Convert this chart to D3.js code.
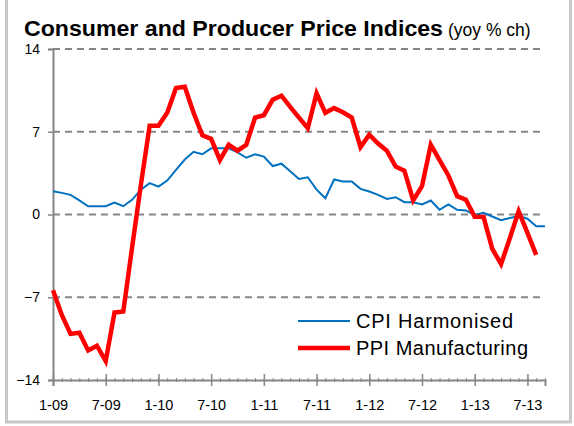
<!DOCTYPE html>
<html>
<head>
<meta charset="utf-8">
<script src="https://cdn.jsdelivr.net/npm/d3@7"></script>
<style>
  html, body { margin: 0; padding: 0; background: #fff; }
  svg { display: block; font-family: "Liberation Sans", Arial, sans-serif; }
</style>
</head>
<body>
<svg id="chart" width="574" height="426"></svg>
<script>
// Monthly index, 0 = Jan 2009
const tickMonths = [0, 6, 12, 18, 24, 30, 36, 42, 48, 54];
const tickLabels = ["1-09", "7-09", "1-10", "7-10", "1-11", "7-11", "1-12", "7-12", "1-13", "7-13"];
const yTicks = [-14, -7, 0, 7, 14];

// CPI Harmonised, yoy % change, Jan 2009 - Sep 2013
const cpiHarmonised = [
  1.97, 1.83, 1.66, 1.2, 0.7, 0.7, 0.7, 1.0, 0.7, 1.24, 2.1, 2.65,
  2.36, 2.87, 3.77, 4.65, 5.3, 5.1, 5.6, 5.6, 5.6, 5.26, 4.8, 5.1,
  4.9, 4.1, 4.3, 3.66, 3.0, 3.15, 2.1, 1.38, 2.96, 2.8, 2.8, 2.17,
  1.95, 1.66, 1.32, 1.46, 1.04, 1.04, 0.85, 1.18, 0.4, 0.85, 0.4, 0.34,
  -0.05, 0.14, -0.17, -0.48, -0.3, -0.12, -0.36, -1.0, -1.0
];

// PPI Manufacturing, yoy % change, Jan 2009 - Aug 2013
const ppiManufacturing = [
  -6.4, -8.5, -10.1, -10.0, -11.5, -11.1, -12.4, -8.3, -8.2, -2.8, 2.5, 7.5,
  7.5, 8.6, 10.7, 10.8, 8.6, 6.7, 6.4, 4.6, 5.9, 5.4, 5.9, 8.2,
  8.4, 9.7, 10.05, 9.1, 8.2, 7.3, 10.25, 8.6, 9.0, 8.65, 8.2, 5.7,
  6.75, 6.0, 5.4, 4.05, 3.7, 1.2, 2.4, 5.9, 4.6, 3.3, 1.55, 1.25,
  -0.2, -0.2, -2.9, -4.2, -2.0, 0.28, -1.55, -3.42
];

const seriesNames = ["CPI Harmonised", "PPI Manufacturing"];
const seriesColors = ["#0070C0", "#FF0000"];
const seriesWidths = [2, 4.5];
const legendWidths = [157, 172];

const svg = d3.select("#chart");

// outer frame
svg.append("rect")
  .attr("x", 6.5).attr("y", -10)
  .attr("width", 564).attr("height", 432)
  .attr("fill", "none").attr("stroke", "#c8c8c8").attr("stroke-width", 3);

// title
const title = svg.append("text").attr("x", 24).attr("y", 36);
title.append("tspan")
  .attr("font-weight", "bold").attr("font-size", 22.5)
  .attr("textLength", 419).attr("lengthAdjust", "spacingAndGlyphs")
  .text("Consumer and Producer Price Indices");
title.append("tspan")
  .attr("x", 448).attr("font-size", 17.5)
  .text("(yoy % ch)");

const x = d3.scaleLinear().domain([0, 56]).range([53, 545]);
const y = d3.scaleLinear().domain([-14, 14]).range([380, 49]);

// dashed gridlines
svg.append("g")
  .selectAll("line")
  .data(yTicks.filter(d => d !== -14))
  .join("line")
  .attr("x1", x(0)).attr("x2", x(56))
  .attr("y1", d => y(d)).attr("y2", d => y(d))
  .attr("stroke", "#868686").attr("stroke-width", 2)
  .attr("stroke-dasharray", "7,5");

// y axis
const yAxis = svg.append("g")
  .attr("transform", `translate(${x(0)},0)`)
  .call(d3.axisLeft(y).tickValues(yTicks).tickSize(5).tickPadding(8).tickFormat(d3.format("d")));
yAxis.select(".domain").attr("stroke", "#868686").attr("stroke-width", 2);
yAxis.selectAll(".tick line").attr("stroke", "#868686").attr("stroke-width", 1.5);
yAxis.selectAll(".tick text")
  .attr("font-size", 14).attr("fill", "#000")
  .attr("font-family", "Liberation Sans, Arial, sans-serif");

// x axis: monthly minor ticks, half-yearly major ticks crossing the axis
const xAxisMinor = svg.append("g")
  .attr("transform", `translate(0,${y(-14)})`)
  .call(d3.axisBottom(x).tickValues(d3.range(0, 57)).tickSize(2).tickFormat(""));
xAxisMinor.select(".domain").remove();
xAxisMinor.selectAll(".tick line").attr("y1", -2).attr("stroke", "#868686").attr("stroke-width", 1);

const xAxis = svg.append("g")
  .attr("transform", `translate(0,${y(-14)})`)
  .call(d3.axisBottom(x).tickValues(tickMonths).tickSize(6).tickPadding(14)
    .tickFormat((d, i) => tickLabels[i]));
xAxis.select(".domain").attr("stroke", "#868686").attr("stroke-width", 2);
xAxis.selectAll(".tick line").attr("y1", -6).attr("stroke", "#868686").attr("stroke-width", 1.5);
xAxis.selectAll(".tick text")
  .attr("font-size", 14.5).attr("fill", "#000")
  .attr("font-family", "Liberation Sans, Arial, sans-serif");

// series lines
const line = d3.line().x((d, i) => x(i)).y(d => y(d));
[cpiHarmonised, ppiManufacturing].forEach((vals, k) => {
  svg.append("path")
    .datum(vals)
    .attr("d", line)
    .attr("fill", "none")
    .attr("stroke", seriesColors[k])
    .attr("stroke-width", seriesWidths[k])
    .attr("stroke-linejoin", "miter");
});

// legend
const legend = svg.append("g").attr("transform", "translate(298,321)");
seriesNames.forEach((name, k) => {
  const g = legend.append("g").attr("transform", `translate(0,${k * 27})`);
  g.append("line").attr("x1", 0).attr("x2", 52).attr("y1", 0).attr("y2", 0)
    .attr("stroke", seriesColors[k]).attr("stroke-width", seriesWidths[k]);
  g.append("text").attr("x", 58).attr("y", 7).attr("font-size", 20)
    .attr("textLength", legendWidths[k]).attr("lengthAdjust", "spacing")
    .text(name);
});
</script>
</body>
</html>
